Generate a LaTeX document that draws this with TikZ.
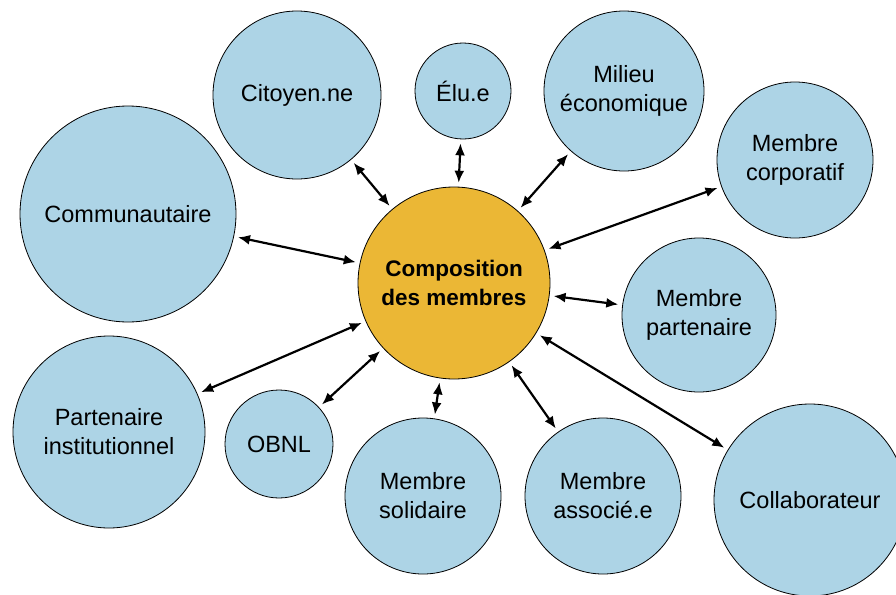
\documentclass[tikz,border=0pt]{standalone}
\usepackage{fontspec}
\setmainfont{Liberation Sans}
\usetikzlibrary{arrows.meta}
\definecolor{bulle}{HTML}{ADD4E6}
\definecolor{centre}{HTML}{EBB735}

\tikzset{
  membre/.style={circle, draw=black, line width=0.8pt, fill=bulle, align=center, inner sep=0pt, font=\fontsize{23.5}{29}\selectfont},
  lien/.style={{Latex[length=12pt,width=10pt]}-{Latex[length=12pt,width=10pt]}, black, line width=2.2pt, shorten >=4pt, shorten <=4pt}
}

\begin{document}
\begin{tikzpicture}[x=1pt,y=-1pt]
                \useasboundingbox (0,0) rectangle (896,594);
                \clip (0,0) rectangle (896,594);

                \node[membre, fill=centre, minimum size=192pt, font=\bfseries\fontsize{22.5}{29}\selectfont] (compo) at (454,283) {Composition\\des membres};

                \node[membre, minimum size=168pt] (cit) at (297,95) {Citoyen.ne};
                \node[membre, minimum size=96pt] (elu) at (463,91) {Élu.e};
                \node[membre, minimum size=160pt] (mil) at (624,91) {Milieu\\économique};
                \node[membre, minimum size=156pt] (corp) at (795,160) {Membre\\corporatif};
                \node[membre, minimum size=216pt] (comm) at (128,214) {Communautaire};
                \node[membre, minimum size=154pt] (part) at (699,315) {Membre\\partenaire};
                \node[membre, minimum size=192pt] (inst) at (109,432) {Partenaire\\institutionnel};
                \node[membre, minimum size=108pt] (obnl) at (279,444) {OBNL};
                \node[membre, minimum size=156pt] (soli) at (423,496) {Membre\\solidaire};
                \node[membre, minimum size=156pt] (asso) at (603,496) {Membre\\associé.e};
                \node[membre, minimum size=192pt] (coll) at (810,500) {Collaborateur};

                \draw[lien] (compo) -- (cit);
                \draw[lien] (compo) -- (elu);
                \draw[lien] (compo) -- (mil);
                \draw[lien] (compo) -- (corp);
                \draw[lien] (compo) -- (comm);
                \draw[lien] (compo) -- (part);
                \draw[lien] (compo) -- (inst);
                \draw[lien] (compo) -- (obnl);
                \draw[lien] (compo) -- (soli);
                \draw[lien] (compo) -- (asso);
                \draw[lien] (compo) -- (coll);
\end{tikzpicture}
\end{document}
